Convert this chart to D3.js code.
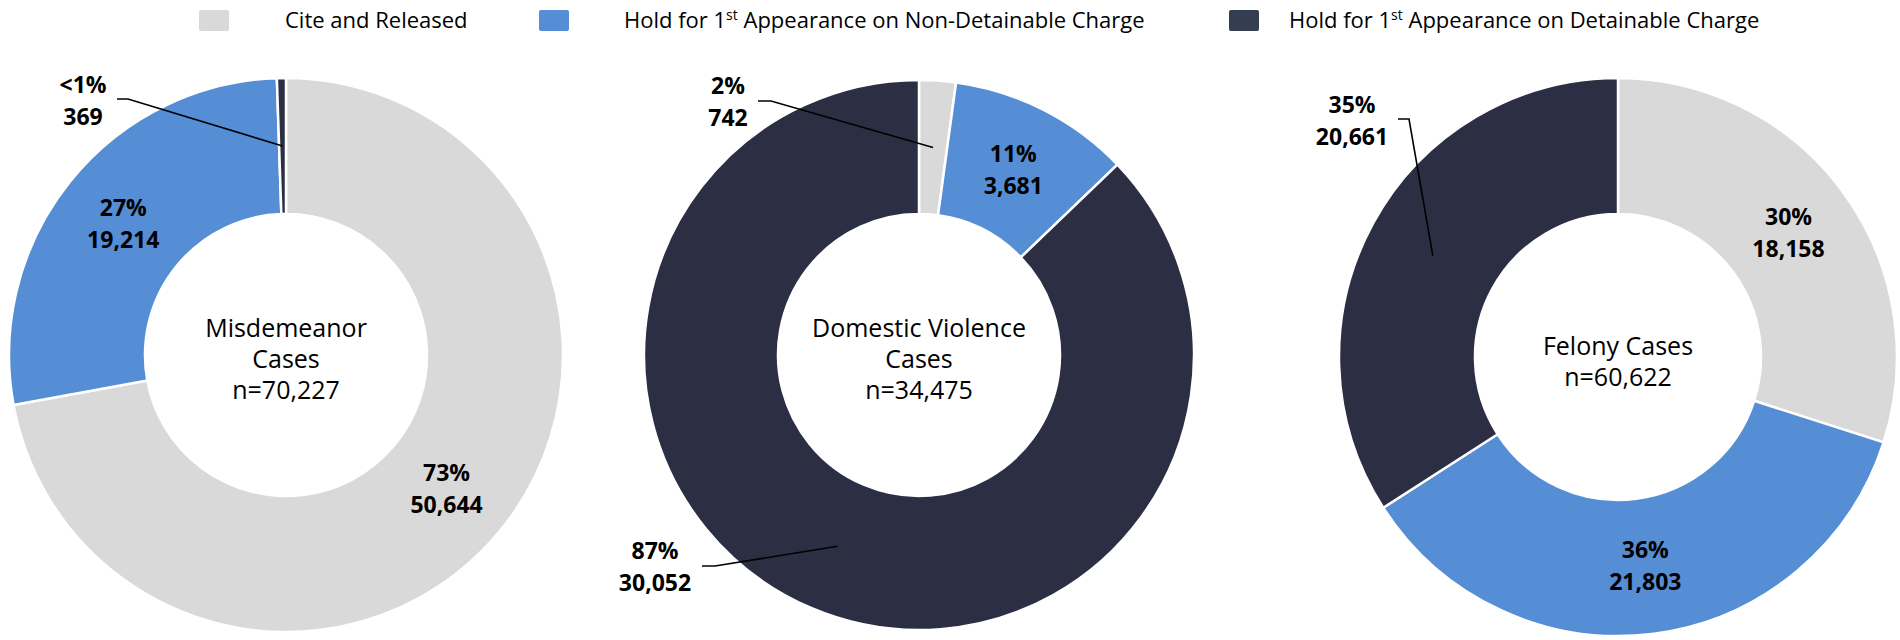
<!DOCTYPE html>
<html>
<head>
<meta charset="utf-8">
<script src="https://cdn.jsdelivr.net/npm/d3@7"></script>
<style>
  html, body { margin: 0; padding: 0; background: #ffffff; }
  svg { display: block; }
</style>
</head>
<body>
<svg id="chart" width="1900" height="640"></svg>
<script>
// ---------------- DATA ----------------
const categories = [
  "Cite and Released",
  "Hold for 1st Appearance on Non-Detainable Charge",
  "Hold for 1st Appearance on Detainable Charge"
];
const chartTitles = [
  ["Misdemeanor", "Cases", "n=70,227"],
  ["Domestic Violence", "Cases", "n=34,475"],
  ["Felony Cases", "n=60,622"]
];
const misdemeanorValues = [50644, 19214, 369];
const domesticValues    = [742, 3681, 30052];
const felonyValues      = [18158, 21803, 20661];
const misdemeanorPct = ["73%", "27%", "<1%"];
const domesticPct    = ["2%", "11%", "87%"];
const felonyPct      = ["30%", "36%", "35%"];

// ---------------- STYLE / LAYOUT ----------------
const sliceColors  = ["#d9d9d9", "#558ed5", "#2c2e44"];
const legendColors = ["#d9d9d9", "#558ed5", "#343e52"];
const FONT = "'Open Sans', 'Noto Sans', sans-serif";

const donuts = [
  { values: misdemeanorValues, pct: misdemeanorPct, title: chartTitles[0], cx: 286,  cy: 355, r: 277, rin: 141,
    outside: { 2: { tx: -203, ty: -262, lx1: -169, lx2: -158, ly: -256 } } },
  { values: domesticValues, pct: domesticPct, title: chartTitles[1], cx: 919, cy: 355, r: 275, rin: 141,
    outside: { 0: { tx: -191, ty: -261, lx1: -161, lx2: -148, ly: -254 },
               2: { tx: -264, ty: 204, lx1: -217, lx2: -204, ly: 211 } } },
  { values: felonyValues, pct: felonyPct, title: chartTitles[2], cx: 1618, cy: 357, r: 279, rin: 143,
    outside: { 2: { tx: -266, ty: -244, lx1: -220, lx2: -209, ly: -238 } } }
];

const svg = d3.select("#chart");
const fmt = d3.format(",");

const pie = d3.pie().sort(null).value(d => d);

donuts.forEach(dn => {
  const g = svg.append("g").attr("transform", `translate(${dn.cx},${dn.cy})`);
  const arcs = pie(dn.values);
  const arc = d3.arc().innerRadius(dn.rin).outerRadius(dn.r);
  const mid = (dn.r + dn.rin) / 2;
  const labelArc = d3.arc().innerRadius(mid).outerRadius(mid);

  g.selectAll("path.slice")
    .data(arcs)
    .join("path")
    .attr("class", "slice")
    .attr("d", arc)
    .attr("fill", (d, i) => sliceColors[i])
    .attr("stroke", "#ffffff")
    .attr("stroke-width", 2.5)
    .attr("stroke-linejoin", "miter");

  arcs.forEach((a, i) => {
    const c = labelArc.centroid(a);
    const o = dn.outside[i];
    let tx, ty;
    if (o) {
      tx = o.tx; ty = o.ty;
      g.append("path")
        .attr("d", d3.line()([[o.lx1, o.ly], [o.lx2, o.ly], c]))
        .attr("fill", "none")
        .attr("stroke", "#000000")
        .attr("stroke-width", 1.6);
    } else {
      tx = c[0]; ty = c[1] - 8;
    }
    const t = g.append("text")
      .attr("x", tx)
      .attr("y", ty)
      .attr("text-anchor", "middle")
      .attr("font-family", FONT)
      .attr("font-weight", 700)
      .attr("font-size", 23)
      .attr("fill", "#000000");
    t.append("tspan").attr("x", tx).text(dn.pct[i]);
    t.append("tspan").attr("x", tx).attr("dy", 32).text(fmt(a.data));
  });

  const lineH = 31;
  const n = dn.title.length;
  const startY = 4 - (n - 1) * lineH / 2 + 9;
  const ct = g.append("text")
    .attr("text-anchor", "middle")
    .attr("font-family", FONT)
    .attr("font-size", 25)
    .attr("fill", "#000000");
  dn.title.forEach((line, i) => {
    ct.append("tspan").attr("x", 0).attr("y", startY + i * lineH).text(line);
  });
});

// ---------------- LEGEND ----------------
const legendX = [199, 539, 1229];
const legendTextX = [285, 624, 1289];
const legend = svg.append("g");
categories.forEach((cat, i) => {
  legend.append("rect")
    .attr("x", legendX[i]).attr("y", 10)
    .attr("width", 30).attr("height", 21)
    .attr("rx", 2)
    .attr("fill", legendColors[i]);
  const t = legend.append("text")
    .attr("x", legendTextX[i]).attr("y", 28)
    .attr("font-family", FONT)
    .attr("font-size", 22)
    .attr("fill", "#000000");
  const m = cat.match(/^(.*?1)(st)(.*)$/);
  if (m) {
    t.append("tspan").text(m[1]);
    t.append("tspan").attr("font-size", 14).attr("dy", -8).text(m[2]);
    t.append("tspan").attr("dy", 8).text(m[3]);
  } else {
    t.text(cat);
  }
});
</script>
</body>
</html>
